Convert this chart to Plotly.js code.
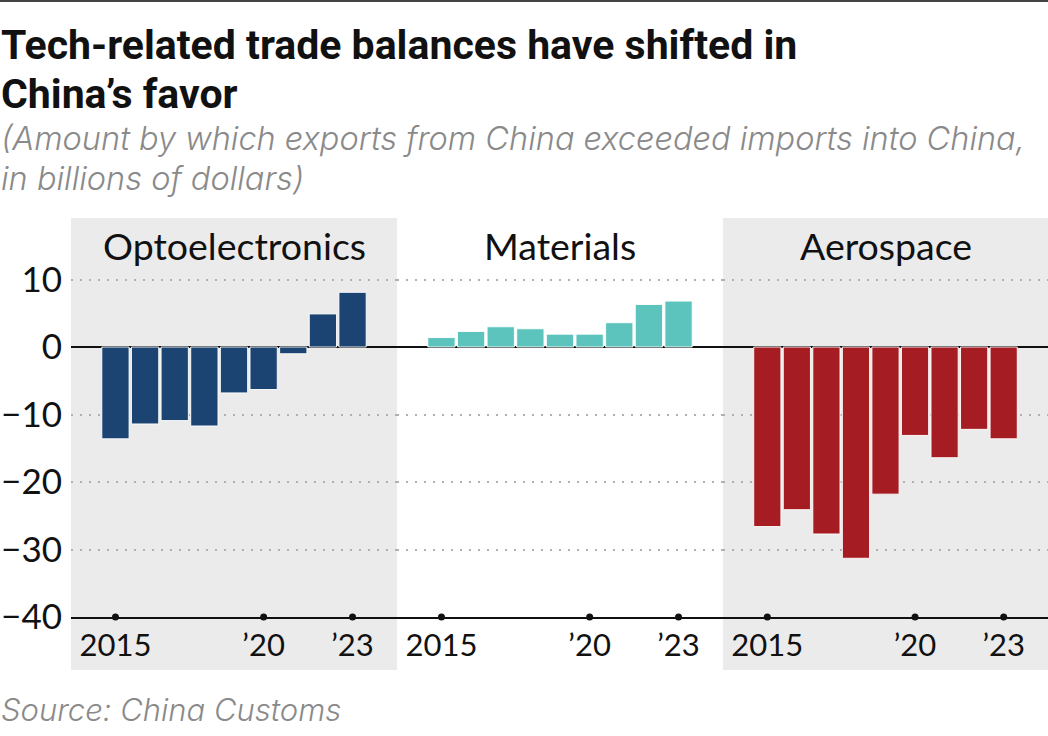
<!DOCTYPE html>
<html>
<head>
<meta charset="utf-8">
<script src="https://cdn.plot.ly/plotly-3.0.1.min.js"></script>
<style>html,body{margin:0;padding:0;background:#fff;}#chart{width:1048px;height:736px;}</style>
</head>
<body>
<div id="chart"></div>
<script>
// ---- Data ----
const years = [2015, 2016, 2017, 2018, 2019, 2020, 2021, 2022, 2023];
const panels = ["Optoelectronics", "Materials", "Aerospace"];
const optoelectronics = [-13.6, -11.4, -10.9, -11.7, -6.8, -6.3, -1.0, 4.9, 8.1];
const materials = [1.4, 2.3, 3.0, 2.7, 1.9, 1.9, 3.6, 6.3, 6.8];
const aerospace = [-26.6, -24.1, -27.7, -31.3, -21.8, -13.1, -16.4, -12.2, -13.6];
const tickYears = [2015, 2020, 2023];
const tickLabels = ["2015", "\u201920", "\u201923"];
const yTicks = [10, 0, -10, -20, -30, -40];
const yTickLabels = ["10", "0", "\u221210", "\u221220", "\u221230", "\u221240"];
const yMin = -40;

const colors = ["#1b4472", "#5cc4bd", "#a51c22"];
const series = [optoelectronics, materials, aerospace];

const FONT = "Lato, 'Open Sans', sans-serif";
const LIGHTFONT = "Inter, 'Open Sans', Lato, sans-serif";
const TITLEFONT = "Roboto, 'Liberation Sans Narrow', sans-serif";

const W = 1048, H = 736;
const mL = 71, mR = 0, mT = 218, mB = 119;
const plotW = W - mL - mR, plotH = H - mT - mB;
const px2x = p => (p - mL) / plotW;
const px2y = p => (H - mB - p) / plotH;

const d1 = px2x(397), d2 = px2x(723);
const domains = [[0, d1], [d1, d2], [d2, 1]];

const traces = [];
series.forEach((vals, i) => {
  const xa = i === 0 ? "x" : "x" + (i + 1);
  traces.push({
    type: "bar", x: years, y: vals, xaxis: xa, yaxis: "y",
    marker: {color: colors[i], line: {color: "rgba(255,255,255,0.9)", width: 1}},
    hoverinfo: "x+y", showlegend: false
  });
  traces.push({
    type: "scatter", mode: "markers", x: tickYears, y: tickYears.map(() => yMin),
    xaxis: xa, yaxis: "y", cliponaxis: false,
    marker: {color: "#111", size: 7}, hoverinfo: "skip", showlegend: false
  });
});

const layout = {
  width: W, height: H,
  margin: {l: mL, r: mR, t: mT, b: mB, pad: 0},
  paper_bgcolor: "#fff", plot_bgcolor: "rgba(0,0,0,0)",
  bargap: 0.08,
  font: {family: FONT, color: "#111"},
  yaxis: {
    range: [yMin, yMin + plotH / 6.75], tickvals: yTicks, ticktext: yTickLabels,
    showgrid: true, gridcolor: "#b0b0b0", griddash: "2px,7px", gridwidth: 2,
    zeroline: true, zerolinecolor: "#111", zerolinewidth: 1.5,
    ticks: "", ticklabelstandoff: 8,
    tickfont: {family: FONT, size: 35, color: "#111"}, fixedrange: true, layer: "above traces"
  },
  shapes: [],
  annotations: []
};

domains.forEach((dom, i) => {
  const key = i === 0 ? "xaxis" : "xaxis" + (i + 1);
  layout[key] = {
    domain: dom, anchor: "y", range: [2013.5, 2024.5],
    tickvals: tickYears, ticktext: tickLabels, ticks: "",
    showline: true, linecolor: "#111", linewidth: 1.5,
    showgrid: false, zeroline: false, ticklabelstandoff: 0,
    tickfont: {family: FONT, size: 31, color: "#111"}, fixedrange: true
  };
  if (i !== 1) {
    layout.shapes.push({
      type: "rect", xref: "paper", yref: "paper", layer: "below",
      x0: dom[0], x1: dom[1], y0: px2y(670), y1: 1,
      fillcolor: "#ebebeb", line: {width: 0}
    });
  }
  layout.annotations.push({
    xref: "paper", yref: "paper", x: (dom[0] + dom[1]) / 2, y: px2y(245),
    xanchor: "center", yanchor: "middle", showarrow: false,
    text: panels[i], font: {family: FONT, size: 37.5, color: "#111"}
  });
});

// top rule
layout.shapes.push({type: "line", xref: "paper", yref: "paper",
  x0: px2x(0), x1: px2x(W), y0: px2y(1), y1: px2y(1), line: {color: "#444", width: 2}});

const textAnn = (t, ypx, font) => ({
  xref: "paper", yref: "paper", x: px2x(0), y: px2y(ypx), xanchor: "left", yanchor: "middle",
  align: "left", showarrow: false, borderpad: 0, text: t, font: font
});
const tFont = {family: TITLEFONT, size: 41, weight: 700, color: "#111"};
const sFont = {family: LIGHTFONT, size: 32.5, weight: 300, style: "italic", color: "#8a8a8a"};
const srcFont = {family: LIGHTFONT, size: 31, weight: 300, style: "italic", color: "#8a8a8a"};
layout.annotations.push(textAnn("Tech-related trade balances have shifted in", 45, tFont));
layout.annotations.push(textAnn("China\u2019s favor", 94, tFont));
layout.annotations.push(textAnn("(Amount by which exports from China exceeded imports into China,", 138, sFont));
layout.annotations.push(textAnn("in billions of dollars)", 178, sFont));
layout.annotations.push(textAnn("Source: China Customs", 709, srcFont));

Plotly.newPlot("chart", traces, layout, {displayModeBar: false, staticPlot: true});
</script>
</body>
</html>
